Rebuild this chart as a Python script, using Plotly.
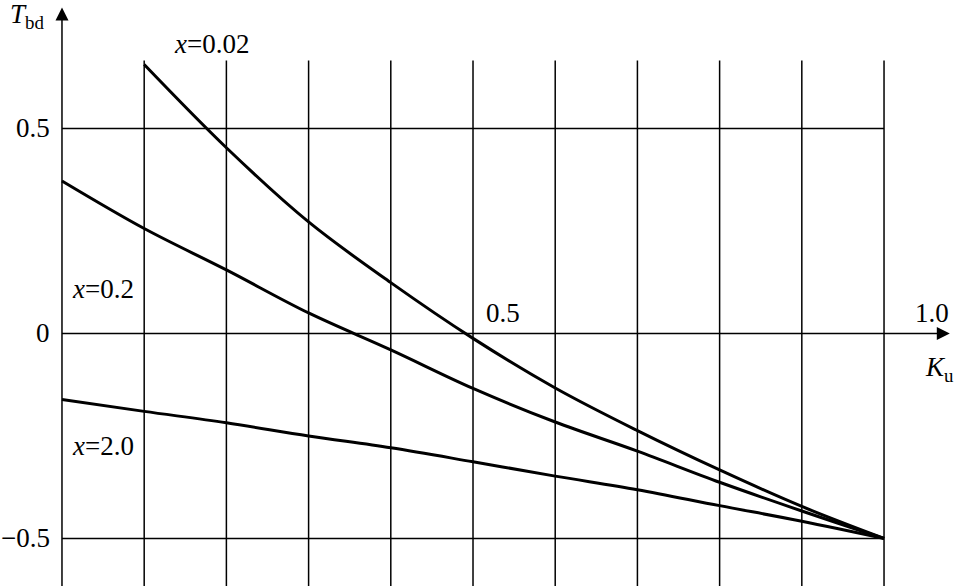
import plotly.graph_objects as go

# ---- data ----
K_grid = [0.1, 0.2, 0.3, 0.4, 0.5, 0.6, 0.7, 0.8, 0.9, 1.0]
K_x002 = [0.1, 0.2, 0.3, 0.4, 0.5, 0.6, 0.7, 0.8, 0.9, 1.0]
T_x002 = [0.656, 0.453, 0.272, 0.124, -0.012, -0.133, -0.237, -0.333, -0.422, -0.5]
K_full = [0.0, 0.1, 0.2, 0.3, 0.4, 0.5, 0.6, 0.7, 0.8, 0.9, 1.0]
T_x02 = [0.372, 0.256, 0.155, 0.050, -0.040, -0.134, -0.216, -0.287, -0.363, -0.433, -0.5]
T_x20 = [-0.161, -0.190, -0.218, -0.250, -0.279, -0.313, -0.348, -0.381, -0.420, -0.458, -0.5]

y_tick_vals = [0.5, 0.0, -0.5]
y_tick_text = ["0.5", "0", "\u22120.5"]
x_tick_vals = [0.5, 1.0]
x_tick_text = ["0.5", "1.0"]
x_tick_label_pos = [0.537, 1.058]
h_grid = [0.5, -0.5]

XMIN, XMAX = -0.0754, 1.0912
YMIN, YMAX = -0.616, 0.8134
GRID_TOP = 0.666
FONT = "Liberation Serif"
FS = 27

fig = go.Figure()
for K, T in [(K_x002, T_x002), (K_full, T_x02), (K_full, T_x20)]:
    fig.add_trace(go.Scatter(x=K, y=T, mode="lines",
                             line=dict(color="black", width=3, shape="spline", smoothing=1.0),
                             showlegend=False, hoverinfo="skip"))

# axis arrowheads
fig.add_trace(go.Scatter(x=[0], y=[0.795], mode="markers", cliponaxis=False,
                         marker=dict(symbol="arrow-up", size=13, color="black", line=dict(width=0)),
                         showlegend=False, hoverinfo="skip"))
fig.add_trace(go.Scatter(x=[1.08], y=[0], mode="markers", cliponaxis=False,
                         marker=dict(symbol="arrow-right", size=13, color="black", line=dict(width=0)),
                         showlegend=False, hoverinfo="skip"))

shapes = []
for k in K_grid:
    shapes.append(dict(type="line", xref="x", yref="y", x0=k, x1=k, y0=GRID_TOP, y1=YMIN,
                       line=dict(color="black", width=1.5), layer="below"))
for h in h_grid:
    shapes.append(dict(type="line", xref="x", yref="y", x0=0, x1=1.0, y0=h, y1=h,
                       line=dict(color="black", width=1.5), layer="below"))
# axis lines
shapes.append(dict(type="line", xref="x", yref="y", x0=0, x1=0, y0=YMIN, y1=0.78,
                   line=dict(color="black", width=1.5), layer="below"))
shapes.append(dict(type="line", xref="x", yref="y", x0=0, x1=1.07, y0=0, y1=0,
                   line=dict(color="black", width=1.5), layer="below"))

ann = []
for v, t in zip(y_tick_vals, y_tick_text):
    ann.append(dict(x=-0.012, y=v, xref="x", yref="y", text=t, showarrow=False,
                    xanchor="right", yanchor="middle", font=dict(family=FONT, size=FS, color="black")))
for p, t in zip(x_tick_label_pos, x_tick_text):
    ann.append(dict(x=p, y=0.05, xref="x", yref="y", text=t, showarrow=False,
                    xanchor="center", yanchor="middle", font=dict(family=FONT, size=FS, color="black")))

labels = [
    ("<i>x</i>=0.02", 0.182, 0.706),
    ("<i>x</i>=0.2", 0.050, 0.108),
    ("<i>x</i>=2.0", 0.050, -0.275),
]
for t, xx, yy in labels:
    ann.append(dict(x=xx, y=yy, xref="x", yref="y", text=t, showarrow=False,
                    xanchor="center", yanchor="middle", font=dict(family=FONT, size=FS, color="black")))

ann.append(dict(x=-0.0425, y=0.775, xref="x", yref="y", text="<i>T</i><sub>bd</sub>", showarrow=False,
                xanchor="center", yanchor="middle", font=dict(family=FONT, size=FS, color="black")))
ann.append(dict(x=1.068, y=-0.086, xref="x", yref="y", text="<i>K</i><sub>u</sub>", showarrow=False,
                xanchor="center", yanchor="middle", font=dict(family=FONT, size=FS, color="black")))

fig.update_layout(
    width=959, height=586,
    margin=dict(l=0, r=0, t=0, b=0),
    paper_bgcolor="white", plot_bgcolor="white",
    xaxis=dict(range=[XMIN, XMAX], visible=False, fixedrange=True),
    yaxis=dict(range=[YMIN, YMAX], visible=False, fixedrange=True),
    shapes=shapes, annotations=ann,
)

fig.write_html("out.html", config={"displayModeBar": False, "staticPlot": True},
               post_script="document.body.style.margin='0';document.body.style.overflow='hidden';")
